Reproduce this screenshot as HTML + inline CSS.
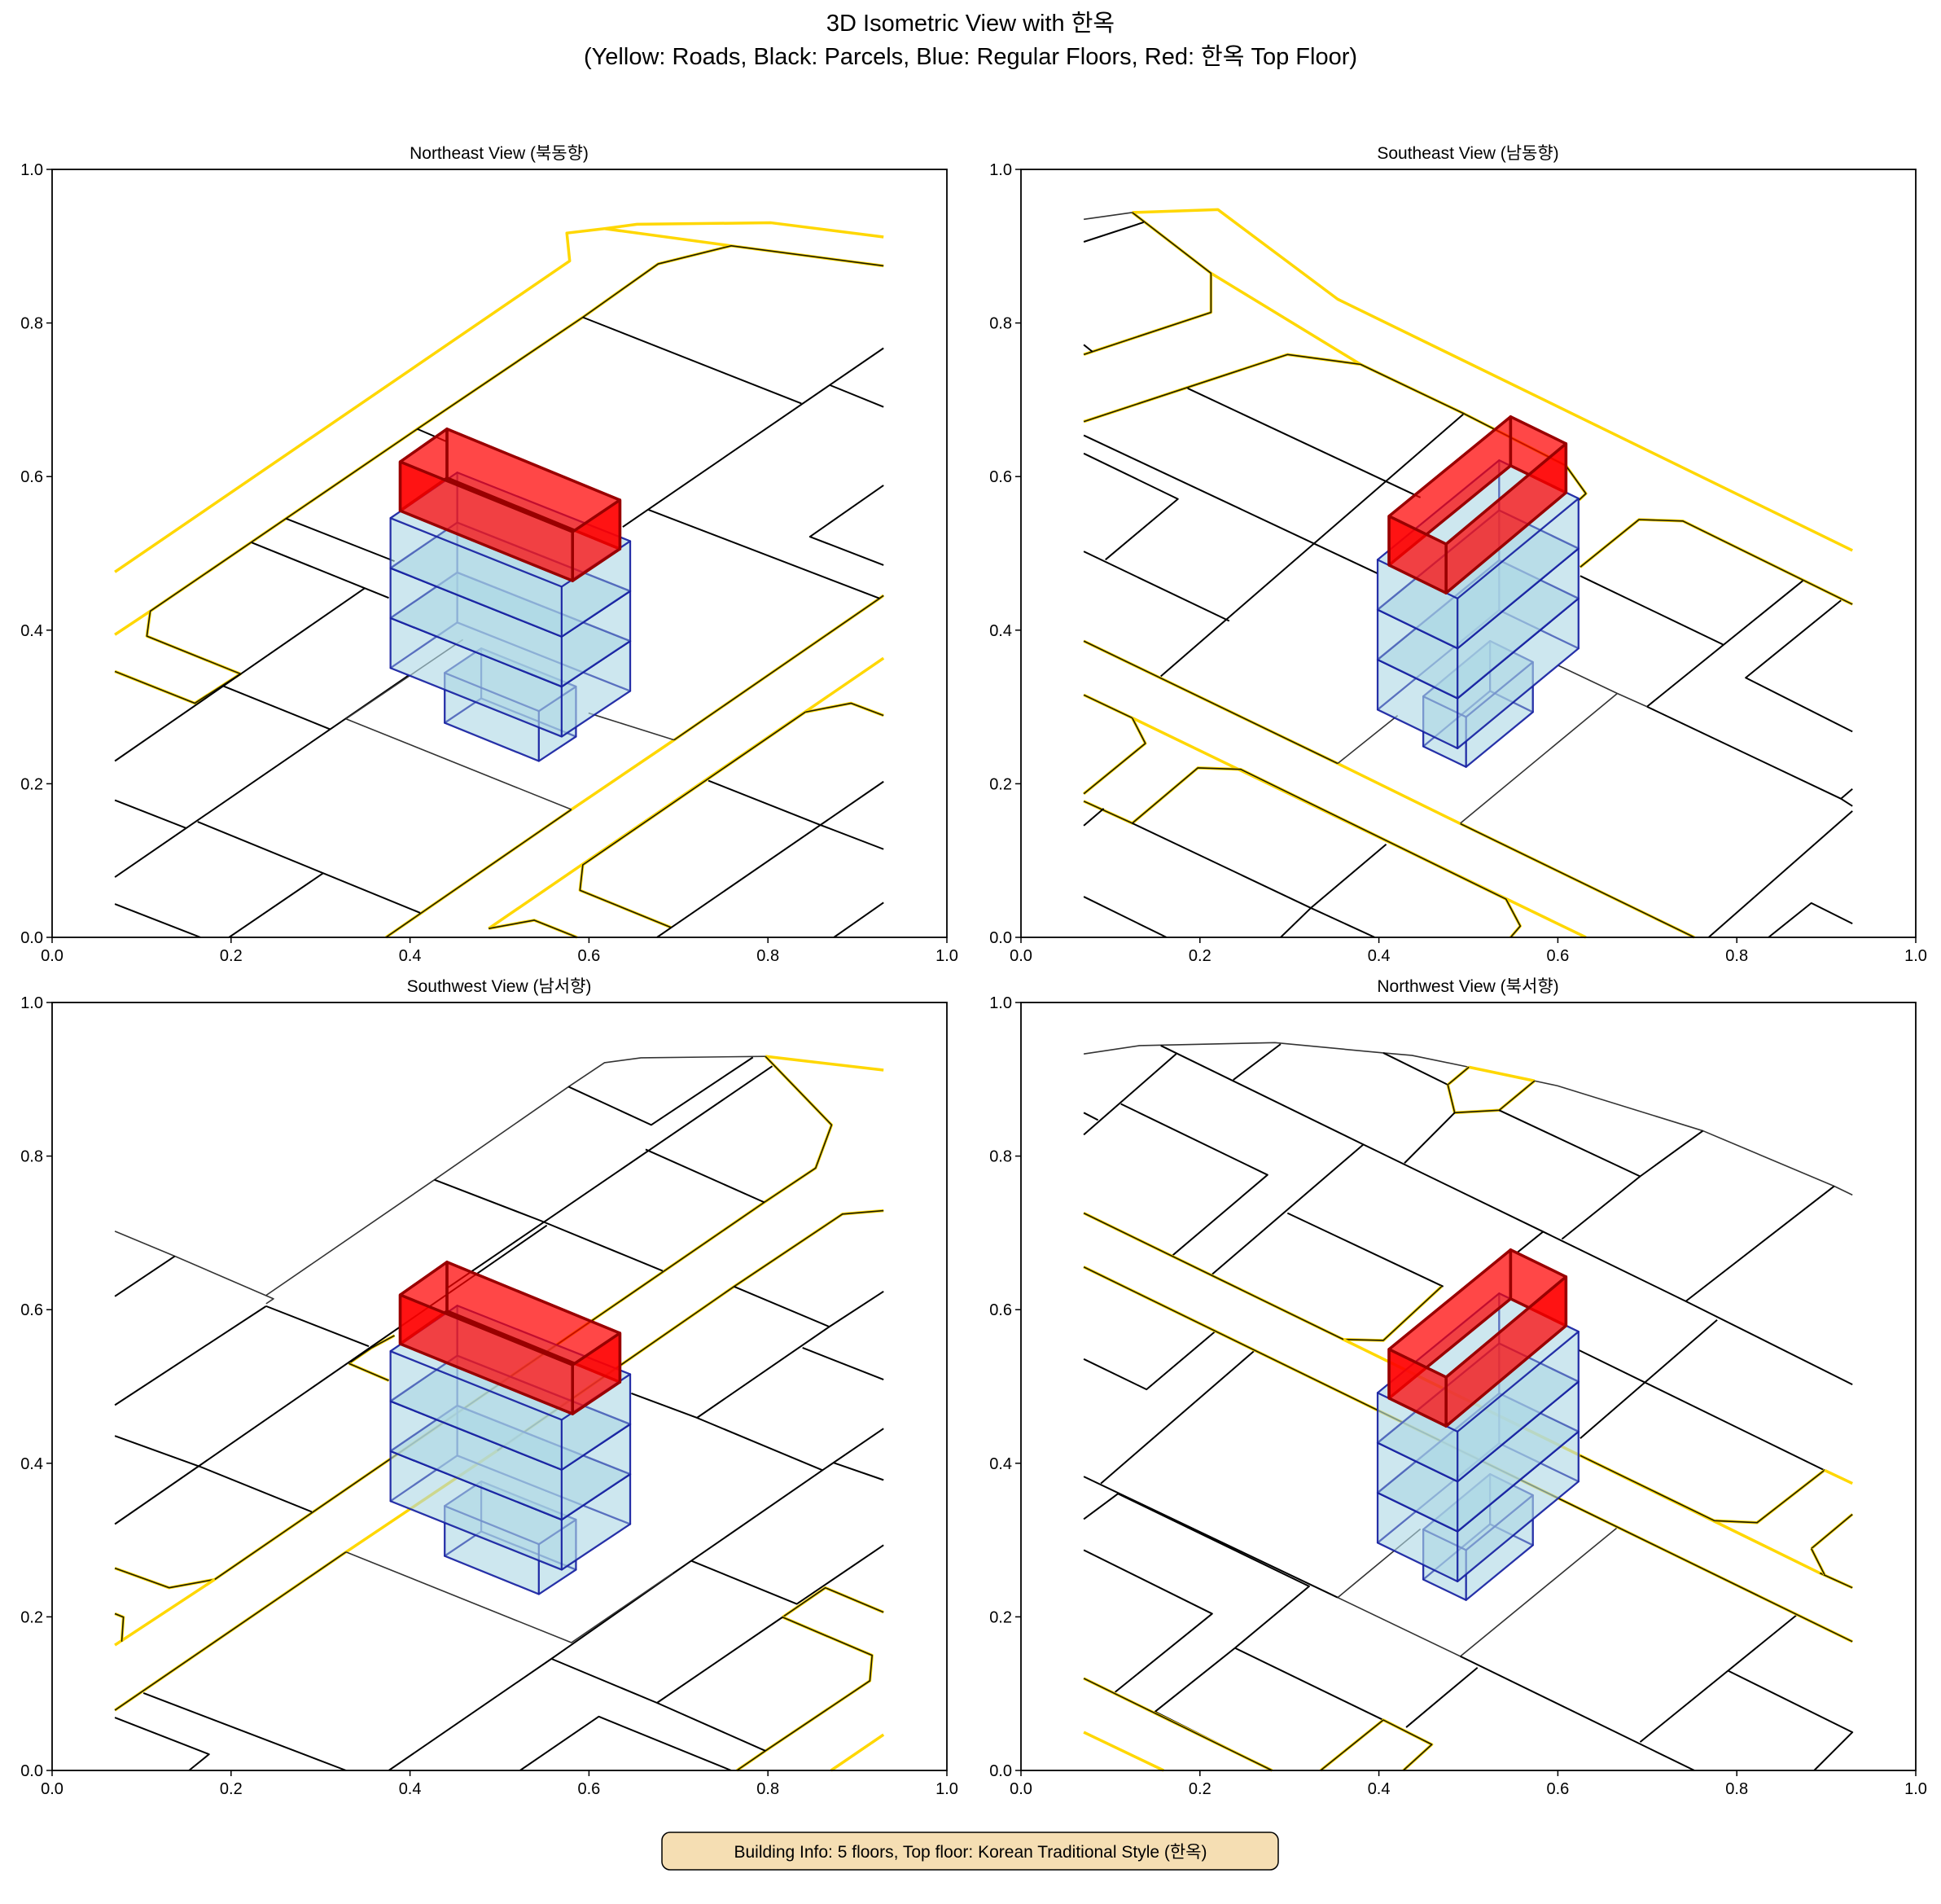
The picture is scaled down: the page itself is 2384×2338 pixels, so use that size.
<!DOCTYPE html>
<html><head><meta charset="utf-8">
<style>
html,body{margin:0;padding:0;background:#fff;}
svg{display:block;}
text{font-family:"Liberation Sans","Noto Sans CJK KR",sans-serif;fill:#000;}
.ln{fill:none;vector-effect:non-scaling-stroke;stroke-linejoin:round;}
.y{stroke:#ffd700;stroke-width:3.5;}
.yb{stroke:#ffd700;stroke-width:3.5;}
.k{stroke:#000;stroke-width:2;}
.g{stroke:#333;stroke-width:1.6;}
.f{vector-effect:non-scaling-stroke;}
</style></head>
<body>
<svg id="s" xmlns="http://www.w3.org/2000/svg" width="2384" height="2338" viewBox="0 0 2384 2338">
<rect width="2384" height="2338" fill="#fff"/>
<text x="1192" y="38" font-size="29" text-anchor="middle">3D Isometric View with 한옥</text>
<text x="1192" y="79" font-size="29" text-anchor="middle">(Yellow: Roads, Black: Parcels, Blue: Regular Floors, Red: 한옥 Top Floor)</text>
<text x="613" y="195" font-size="21" text-anchor="middle">Northeast View (북동향)</text>
<text x="1803" y="195" font-size="21" text-anchor="middle">Southeast View (남동향)</text>
<text x="613" y="1218" font-size="21" text-anchor="middle">Southwest View (남서향)</text>
<text x="1803" y="1218" font-size="21" text-anchor="middle">Northwest View (북서향)</text>
<g id="panels"></g>
<g id="axes"></g>
<rect x="813" y="2250" width="757" height="46" rx="10" fill="#f5deb3" stroke="#000" stroke-width="1.5"/>
<text x="1192" y="2281" font-size="21" text-anchor="middle">Building Info: 5 floors, Top floor: Korean Traditional Style (한옥)</text>
</svg>
<script>
var NS="http://www.w3.org/2000/svg";
function el(t,a,p){var e=document.createElementNS(NS,t);for(var k in a)e.setAttribute(k,a[k]);p.appendChild(e);return e;}
var P=[[64,208],[1254,208],[64,1231],[1254,1231]];
var sx=1099/1568, sy=943/1568;
var L=[
[
['y',[110,822,907,187,902,130,968,121,1025,112,1260,109,1457,138]],
['y',[968,121,1190,156]],['y',[110,950,172,902]],
['y',[765,1550,1457,998]],
['y',[910,1307,1090,1165]],
['yb',[110,1025,250,1090,330,1030,166,953,172,902,640,530,930,302,1062,193,1190,156,1457,197]],
['yb',[585,1568,910,1307]],['yb',[1090,1165,1450,876,1457,870]],
['yb',[1320,1108,930,1420,925,1472,1085,1548]],
['yb',[1320,1108,1400,1090,1457,1115]],
['yb',[765,1550,845,1533,920,1568]],
['k',[930,302,1313,478]],['k',[1457,365,1000,730]],['k',[1362,440,1457,485]],
['k',[640,530,690,555]],['k',[410,713,600,800]],['k',[350,762,590,875]],
['k',[1045,695,1450,876]],['k',[1457,645,1328,750,1457,808]],
['k',[548,855,110,1208]],['k',[300,1055,487,1143]],['k',[625,1033,110,1445]],
['g',[515,1122,910,1307]],['g',[515,1122,720,960]],['g',[940,1110,1090,1165]],
['k',[110,1288,235,1345]],['k',[255,1332,645,1518]],['k',[110,1500,260,1568]],
['k',[475,1437,310,1568]],['k',[1150,1248,1345,1338,1457,1388]],
['k',[1457,1250,1060,1568]],['k',[1457,1497,1370,1568]]
],
[
['g',[110,102,195,88]],
['y',[195,88,345,82,555,265,1457,778]],['y',[333,212,595,398]],
['yb',[195,88,333,212,333,292,110,378]],
['yb',[110,515,467,378,595,398,775,498,955,605,990,662,978,675]],
['yb',[980,812,1083,715,1160,718,1457,888]],
['yb',[110,963,555,1213]],['y',[555,1213,770,1336]],['yb',[770,1336,1180,1568]],
['yb',[110,1073,195,1120]],['y',[195,1120,990,1568]],
['yb',[195,1120,218,1172,110,1275]],
['yb',[110,1290,195,1335,310,1222,385,1225,850,1490,875,1545,858,1568]],
['k',[110,148,215,108]],['k',[110,358,125,372]],
['k',[292,447,700,670]],['k',[110,543,625,825]],['k',[110,580,275,673,148,797]],
['k',[110,780,365,922]],['k',[775,500,245,1035]],
['k',[980,830,1230,970]],['k',[1370,840,1097,1097]],['k',[1437,880,1270,1038,1457,1148]],
['k',[1097,1097,1437,1285,1457,1300]],['k',[1437,1285,1457,1265]],['g',[1097,1097,1045,1070]],
['g',[1045,1070,770,1335]],['g',[555,1213,660,1115]],['g',[940,1012,1045,1070]],
['k',[1457,1310,1205,1568]],['k',[110,1340,145,1305]],
['k',[195,1335,508,1508,640,1378]],['k',[508,1508,455,1568]],['k',[508,1508,620,1568]],
['k',[110,1485,255,1568]],['k',[1457,1540,1385,1498,1310,1568]]
],
[
['g',[375,598,670,362,905,172,968,123,1032,113,1250,110]],['g',[110,467,215,518,388,605,375,615]],
['y',[1250,110,1457,138]],
['yb',[285,1178,1248,408,1338,338,1366,250,1250,110]],
['yb',[110,1155,205,1195,285,1178]],['y',[110,1312,285,1178]],
['yb',[520,737,560,705,600,680]],['yb',[520,737,590,772]],
['yb',[110,1445,515,1122]],['y',[515,1122,780,915]],['yb',[780,915,1195,580,1385,432,1457,425]],
['yb',[110,1248,125,1255,122,1305]],
['yb',[1280,1255,1355,1195,1457,1245]],['yb',[1280,1255,1437,1333,1433,1385,1250,1528,1200,1568]],
['y',[1457,1495,1365,1568]],
['k',[905,172,1050,250,1228,112]],['k',[1262,130,690,585]],['k',[1040,300,1248,408]],
['k',[670,362,855,445,1070,548]],['k',[110,600,215,518]],['k',[375,620,555,702]],['k',[375,620,110,822]],
['k',[110,1065,867,455]],['k',[110,885,260,948,455,1040]],
['k',[1195,580,1362,662,1457,590]],['k',[1362,662,1130,848,1015,798]],['k',[1315,705,1457,770]],
['k',[1130,848,1350,955,1457,870]],['k',[1350,955,1120,1140]],['k',[1370,940,1457,975]],
['k',[1120,1140,1305,1228,1457,1108]],['g',[1088,1165,1120,1140]],['k',[1120,1140,875,1340,590,1568]],
['k',[875,1340,1060,1430,1250,1528]],['k',[1060,1430,1280,1255]],
['g',[515,1122,910,1307,1088,1165]],
['k',[160,1410,515,1568]],['k',[110,1460,275,1535,240,1568]],['k',[820,1568,958,1458,1190,1568]]
],
[
['g',[110,105,208,88,445,82,635,103,685,108,785,132]],['y',[785,132,900,160]],['g',[900,160,940,170,1195,262,1425,375,1457,393]],
['k',[245,88,600,290,915,468,1165,610,1457,780]],['k',[110,270,272,105]],['k',[372,158,455,85]],
['k',[110,225,135,240]],['k',[175,207,432,352,265,517]],['k',[635,103,748,168]],
['yb',[748,168,785,132]],['yb',[748,168,760,225,838,220,900,160]],['k',[760,225,672,328]],
['k',[838,220,1085,355,1195,262]],['k',[1085,355,948,483]],['k',[915,468,868,512]],
['k',[600,290,335,555]],['k',[467,430,740,580]],['k',[1425,375,1165,610]],
['k',[978,710,1408,955]],['k',[1220,648,980,890]],
['k',[110,728,220,790,340,672]],['k',[408,712,140,982]],['k',[110,968,555,1215]],
['k',[110,1055,170,1003,505,1192,375,1318]],['k',[110,1118,335,1248,165,1408]],
['k',[375,1318,635,1465]],['k',[375,1318,235,1448,440,1568]],
['g',[555,1215,770,1335,1045,1072]],['g',[555,1215,700,1075]],
['k',[770,1335,1180,1568]],['k',[1360,1250,1085,1510]],['k',[1240,1365,1457,1490,1390,1568]],
['k',[675,1480,800,1358]],
['yb',[110,430,565,688,635,690,737,580]],
['y',[565,688,1400,1165]],['yb',[1400,1165,1457,1195]],
['yb',[980,925,1215,1058,1290,1062,1408,955]],['y',[1408,955,1457,982]],
['yb',[1385,1115,1457,1045]],['yb',[1385,1115,1408,1168]],
['yb',[110,540,1457,1305]],
['yb',[110,1380,440,1568]],['y',[110,1490,250,1568]],['yb',[525,1568,635,1465,720,1515,670,1568]]
]];
var B1={main:[[593,1018],[893,1158],[1013,1065],[710,925]],red:[[610,697],[912,840],[995,775],[692,630]],small:[[688,1130],[853,1208],[918,1158],[752,1080]]};
var B2={main:[[625,1103],[765,1182],[977,978],[838,900]],red:[[645,808],[745,865],[955,660],[858,605]],small:[[705,1178],[780,1220],[897,1108],[822,1065]]};
function pts(a){return a.map(function(p){return p[0]+','+p[1];}).join(' ');}
function box(g,c,off,h,fill,stroke,sw,sides){
 var b=c.map(function(p){return [p[0],p[1]-off];});
 var t=c.map(function(p){return [p[0],p[1]-off-h];});
 var FL=0,F=1,R=2,Bk=3;
 var faces=[];
 if(!sides)faces.push([b[0],b[1],b[2],b[3]]);
 faces.push([b[Bk],b[FL],t[FL],t[Bk]]);
 faces.push([b[Bk],b[R],t[R],t[Bk]]);
 faces.push([b[FL],b[F],t[F],t[FL]]);
 faces.push([b[F],b[R],t[R],t[F]]);
 if(!sides)faces.push([t[0],t[1],t[2],t[3]]);
 faces.forEach(function(f){el('polygon',{points:pts(f),fill:fill,stroke:stroke,'stroke-width':sw,'class':'f','stroke-linejoin':'round'},g);});
}
function building(g,B){
 var bf='rgba(173,216,230,0.38)',bs='rgba(20,30,160,0.75)';
 box(g,B.small,0,102,bf,bs,2.2,false);
 for(var k=0;k<3;k++)box(g,B.main,102*k,102,bf,bs,2.2,false);
 box(g,B.red,0,100,'rgba(255,0,0,0.72)','#990000',3.5,true);
}
var pg=document.getElementById('panels');
P.forEach(function(o,i){
 var g=el('g',{transform:'translate('+o[0]+','+o[1]+') scale('+sx+','+sy+')'},pg);
 L[i].forEach(function(l){
  var p=l[1],s='';for(var j=0;j<p.length;j+=2)s+=p[j]+','+p[j+1]+' ';
  if(l[0]=='yb'){el('polyline',{points:s,'class':'ln y'},g);el('polyline',{points:s,'class':'ln','stroke':'#1a1a00','stroke-width':1.6},g);}
  else el('polyline',{points:s,'class':'ln '+l[0]},g);
 });
 building(g,(i==0||i==2)?B1:B2);
});
var ag=document.getElementById('axes');
P.forEach(function(o){
 var x0=o[0],y0=o[1],w=1099,h=943;
 el('rect',{x:x0,y:y0,width:w,height:h,fill:'none',stroke:'#000','stroke-width':1.8},ag);
 for(var t=0;t<=5;t++){
  var v=t*0.2,lab=v.toFixed(1);
  var x=x0+v*w;
  el('line',{x1:x,y1:y0+h,x2:x,y2:y0+h+7,stroke:'#000','stroke-width':1.5},ag);
  var tx=el('text',{x:x,y:y0+h+29,'font-size':20,'text-anchor':'middle'},ag);tx.textContent=lab;
  var y=y0+h-v*h;
  el('line',{x1:x0-7,y1:y,x2:x0,y2:y,stroke:'#000','stroke-width':1.5},ag);
  var ty=el('text',{x:x0-11,y:y+7,'font-size':20,'text-anchor':'end'},ag);ty.textContent=lab;
 }
});
</script>
</body></html>
